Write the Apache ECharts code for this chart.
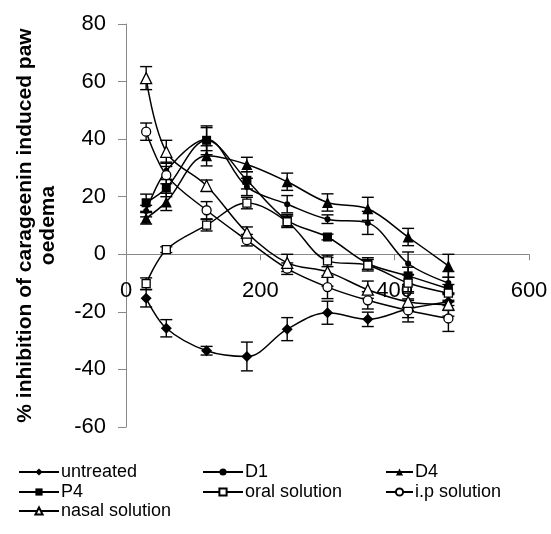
<!DOCTYPE html>
<html>
<head>
<meta charset="utf-8">
<script src="https://cdn.jsdelivr.net/npm/echarts@6/dist/echarts.min.js"></script>
<style>
html,body{margin:0;padding:0;background:#fff;}
#chart{width:551px;height:534px;}
</style>
</head>
<body>
<div id="chart"></div>
<script>
// ---- data ----
var times = [30, 60, 120, 180, 240, 300, 360, 420, 480];
var untreated = [-15.3, -25.7, -33.5, -35.5, -26, -20.3, -22.6, -19, -16.5];
var D1 = [15, 29, 40, 23.4, 17.4, 12.2, 10.9, -3.2, -10];
var D4 = [12.5, 18.2, 34.2, 31.2, 25.2, 18, 15.8, 6, -4];
var P4 = [17.9, 23, 39.6, 25.7, 11.8, 6, -3.2, -7.5, -12];
var oral = [-10.2, 1.6, 10.1, 17.8, 11.3, -2.3, -3.8, -10, -13.5];
var ip = [42.6, 27.5, 15.3, 4.9, -5, -11.4, -16, -19.5, -22.3];
var nasal = [61.2, 35.6, 23.8, 7.5, -3, -6.1, -12.3, -16.5, -17.5];

var untreatedErr = [3, 3, 1.5, 5, 4, 4, 2.5, 3, 3];
var D1Err = [2, 3, 4, 3, 3, 1.5, 4, 4, 4];
var D4Err = [2, 3, 3.5, 2.5, 3, 3, 4, 3, 4];
var P4Err = [3, 3, 5, 3, 2, 1, 2, 3, 4];
var oralErr = [2, 1, 2, 2, 2, 2, 2, 3, 3];
var ipErr = [3, 3, 3, 2, 2, 4, 3, 4, 4.5];
var nasalErr = [4, 4, 2, 2, 3, 5, 3, 3, 4];

var xTicks = [0, 200, 400, 600];
var yTicks = [-60, -40, -20, 0, 20, 40, 60, 80];

var FONT = 'Liberation Sans, Arial, sans-serif';

var defs = [
  {name: 'untreated', vals: untreated, err: untreatedErr, symbol: 'diamond', size: 11, fill: '#000'},
  {name: 'D1', vals: D1, err: D1Err, symbol: 'circle', size: 6, fill: '#000'},
  {name: 'D4', vals: D4, err: D4Err, symbol: 'triangle', size: 11, fill: '#000'},
  {name: 'P4', vals: P4, err: P4Err, symbol: 'rect', size: 9, fill: '#000'},
  {name: 'oral solution', vals: oral, err: oralErr, symbol: 'rect', size: 8, fill: '#fff'},
  {name: 'i.p solution', vals: ip, err: ipErr, symbol: 'circle', size: 9, fill: '#fff'},
  {name: 'nasal solution', vals: nasal, err: nasalErr, symbol: 'triangle', size: 11, fill: '#fff'}
];

function pairs(v) { return times.map(function (t, i) { return [t, v[i]]; }); }
function triples(v, e) { return times.map(function (t, i) { return [t, v[i], e[i]]; }); }

function errRender(params, api) {
  var x = api.value(0), y = api.value(1), e = api.value(2);
  var top = api.coord([x, y + e]);
  var bot = api.coord([x, y - e]);
  var hw = 6;
  var st = {stroke: '#000', lineWidth: 1.4};
  return {
    type: 'group',
    children: [
      {type: 'line', shape: {x1: top[0], y1: top[1], x2: bot[0], y2: bot[1]}, style: st},
      {type: 'line', shape: {x1: top[0] - hw, y1: top[1], x2: top[0] + hw, y2: top[1]}, style: st},
      {type: 'line', shape: {x1: bot[0] - hw, y1: bot[1], x2: bot[0] + hw, y2: bot[1]}, style: st}
    ]
  };
}

var series = [];
defs.forEach(function (d) {
  series.push({
    type: 'custom',
    name: d.name + ' err',
    renderItem: errRender,
    encode: {x: 0, y: 1},
    data: triples(d.vals, d.err),
    z: 2,
    silent: true
  });
});
defs.forEach(function (d) {
  series.push({
    type: 'line',
    name: d.name,
    data: pairs(d.vals),
    smooth: 0.35,
    symbol: d.symbol,
    symbolSize: d.size,
    showAllSymbol: true,
    lineStyle: {color: '#000', width: 1.5},
    itemStyle: {color: d.fill, borderColor: '#000', borderWidth: d.fill === '#fff' ? 1.3 : 0},
    z: 3,
    animation: false
  });
});

// legend layout
var legendPos = [
  {name: 'untreated', left: 18, top: 463, w: 40},
  {name: 'D1', left: 202, top: 463, w: 40},
  {name: 'D4', left: 385, top: 463, w: 27},
  {name: 'P4', left: 18, top: 483, w: 40},
  {name: 'oral solution', left: 202, top: 483, w: 40},
  {name: 'i.p solution', left: 385, top: 483, w: 27},
  {name: 'nasal solution', left: 18, top: 502, w: 40}
];
var legends = legendPos.map(function (l) {
  return {
    data: [l.name],
    left: l.left,
    top: l.top,
    padding: 0,
    itemWidth: l.w,
    itemHeight: 9,
    itemGap: 0,
    selectedMode: false,
    textStyle: {fontFamily: FONT, fontSize: 18, color: '#000', padding: [0, 0, 0, -3]}
  };
});

var yMin = yTicks[0], yMax = yTicks[yTicks.length - 1];
var gridTop = 24, gridBottom = 107, chartH = 534;
var plotH = chartH - gridTop - gridBottom;
// move the x axis up to the y = 0 line through the axis offset
var zeroOffset = -plotH * (0 - yMin) / (yMax - yMin);

var chart = echarts.init(document.getElementById('chart'), null, {renderer: 'canvas'});
chart.setOption({
  animation: false,
  backgroundColor: '#fff',
  grid: {left: 126, right: 22, top: gridTop, bottom: gridBottom, containLabel: false},
  legend: legends,
  xAxis: {
    type: 'value',
    position: 'bottom',
    offset: zeroOffset,
    min: xTicks[0],
    max: xTicks[xTicks.length - 1],
    interval: xTicks[1] - xTicks[0],
    splitLine: {show: false},
    axisLine: {onZero: false, lineStyle: {color: '#888', width: 1}},
    axisTick: {show: true, length: 6, lineStyle: {color: '#888'}},
    axisLabel: {fontFamily: FONT, fontSize: 22, color: '#000', margin: 26}
  },
  yAxis: {
    type: 'value',
    min: yMin,
    max: yMax,
    interval: yTicks[1] - yTicks[0],
    splitLine: {show: false},
    axisLine: {show: true, onZero: false, lineStyle: {color: '#888', width: 1}},
    axisTick: {show: true, length: 8, lineStyle: {color: '#888'}},
    axisLabel: {fontFamily: FONT, fontSize: 22, color: '#000', margin: 20},
    name: '% inhibition of carageenin induced paw\noedema',
    nameLocation: 'middle',
    nameRotate: 90,
    nameGap: 66,
    nameTextStyle: {fontFamily: FONT, fontSize: 21, fontWeight: 'bold', color: '#000', lineHeight: 23}
  },
  series: series
});
</script>
</body>
</html>
